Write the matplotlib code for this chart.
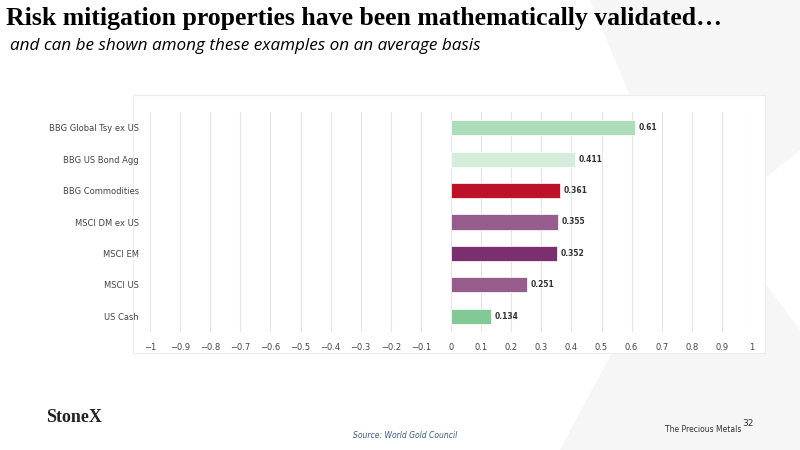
import matplotlib
matplotlib.use("Agg")
import matplotlib.pyplot as plt
from matplotlib.patches import Rectangle, Polygon
import numpy as np

labels = ["BBG Global Tsy ex US", "BBG US Bond Agg", "BBG Commodities", "MSCI DM ex US",
          "MSCI EM", "MSCI US", "US Cash"]
vals = [0.61, 0.411, 0.361, 0.355, 0.352, 0.251, 0.134]
cols = ["#acdcb8", "#d5eddb", "#bc1128", "#965c8b", "#7b2f6e", "#965c8b", "#82c996"]

fig = plt.figure(figsize=(8, 4.5), dpi=100)
fig.patch.set_facecolor("white")

# faint watermark shapes in background
bg = fig.add_axes([0, 0, 1, 1]); bg.set_xlim(0, 800); bg.set_ylim(450, 0); bg.axis("off")
bg.add_patch(Polygon([[590, 0], [800, 0], [800, 150], [700, 230], [640, 120]], color="#f6f6f6", lw=0))
bg.add_patch(Polygon([[640, 300], [740, 250], [800, 330], [800, 450], [560, 450]], color="#f6f6f6", lw=0))
bg.add_patch(Rectangle((133, 95), 632, 258, facecolor="white", edgecolor="#ececec", lw=0.8))

bg.text(6, 18, "Risk mitigation properties have been mathematically validated…", fontsize=18.5,
        fontweight="bold", family="Liberation Serif", va="center", ha="left")
bg.text(10, 46, "and can be shown among these examples on an average basis", fontsize=12.3,
        style="italic", family="Open Sans", va="center", ha="left")
bg.text(46, 418, "StoneX", fontsize=13, fontweight="bold", family="Liberation Serif",
        va="center", ha="left", color="#222222")
bg.text(353, 436, "Source: World Gold Council", fontsize=5.5, style="italic", color="#3a5a8a", va="center")
bg.text(665, 430, "The Precious Metals", fontsize=5.5, color="#333333", va="center")
bg.text(742, 423, "32", fontsize=6.5, color="#333333", va="center")

ax = fig.add_axes([150 / 800, 1 - 332 / 450, 602 / 800, 220 / 450])
y = np.arange(len(labels))
ax.barh(y, vals, height=0.48, color=cols, edgecolor="white", linewidth=0.5, zorder=3)
for yi, v in zip(y, vals):
    ax.text(v + 0.012, yi, f"{v:g}", fontsize=5.5, fontweight="bold", color="#333333", va="center")
ticks = np.round(np.arange(-10, 11) / 10, 1)
ax.set_xlim(-1, 1)
ax.set_ylim(len(labels) - 0.5, -0.5)
ax.set_xticks(ticks)
ax.set_xticklabels(["−" + f"{abs(t):g}" if t < 0 else f"{abs(t):g}" for t in ticks],
                   fontsize=6, color="#444444")
ax.set_yticks(y)
ax.set_yticklabels(labels, fontsize=6, color="#444444")
ax.tick_params(length=0, pad=8)
ax.grid(axis="x", color="#e6e6e6", linewidth=0.8, zorder=0)
for s in ax.spines.values():
    s.set_visible(False)
ax.set_facecolor("none")

fig.savefig("out.png", dpi=100)
